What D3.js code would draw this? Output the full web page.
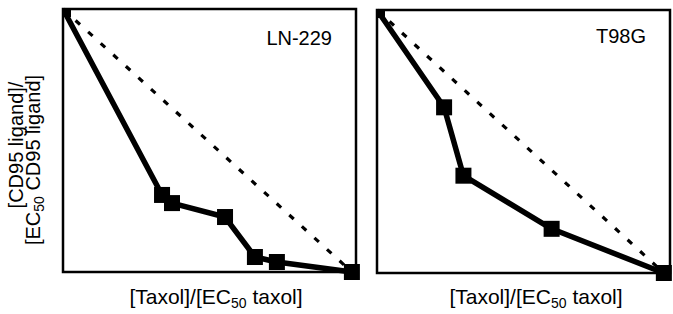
<!DOCTYPE html>
<html>
<head>
<meta charset="utf-8">
<script src="https://cdn.jsdelivr.net/npm/d3@7"></script>
<style>
  body { margin: 0; background: #fff; }
  svg { display: block; font-family: "Liberation Sans", Arial, sans-serif; }
</style>
</head>
<body>
<div id="chart"></div>
<script>
// values, both axes normalised to 0..1
const ln229X = [0, 0.338, 0.372, 0.553, 0.655, 0.730, 0.986];
const ln229Y = [1, 0.293, 0.262, 0.209, 0.057, 0.038, 0];
const t98gX = [0, 0.229, 0.295, 0.596, 0.979];
const t98gY = [1, 0.630, 0.370, 0.168, 0];
const panelNames = ["LN-229", "T98G"];

const width = 673, height = 314;
const pw = 293, ph = 263;
const panels = [
  { name: panelNames[0], xs: ln229X, ys: ln229Y, left: 63, top: 9, labelY: 45, xLabelCx: 216 },
  { name: panelNames[1], xs: t98gX, ys: t98gY, left: 377, top: 10, labelY: 43, xLabelCx: 536 }
];

const svg = d3.select("#chart").append("svg")
  .attr("width", width)
  .attr("height", height);

panels.forEach((p, i) => {
  const x = d3.scaleLinear().domain([0, 1]).range([p.left, p.left + pw]);
  const y = d3.scaleLinear().domain([0, 1]).range([p.top + ph, p.top]);
  const pts = p.xs.map((v, j) => ({ x: v, y: p.ys[j] }));

  // clip only top/left so the corner marker is cut like in the print
  svg.append("clipPath").attr("id", "clip" + i)
    .append("rect")
    .attr("x", p.left).attr("y", p.top)
    .attr("width", pw + 30).attr("height", ph + 30);

  const g = svg.append("g");

  // frame
  g.append("rect")
    .attr("x", p.left).attr("y", p.top)
    .attr("width", pw).attr("height", ph)
    .attr("fill", "none")
    .attr("stroke", "#000")
    .attr("stroke-width", 2.5);

  // additivity line between the two single-agent points
  const first = pts[0], last = pts[pts.length - 1];
  g.append("line")
    .attr("x1", x(first.x)).attr("y1", y(first.y))
    .attr("x2", x(last.x)).attr("y2", y(last.y))
    .attr("stroke", "#000")
    .attr("stroke-width", 3.2)
    .attr("stroke-dasharray", "6,11");

  const line = d3.line().x(d => x(d.x)).y(d => y(d.y));
  g.append("path")
    .datum(pts)
    .attr("d", line)
    .attr("fill", "none")
    .attr("stroke", "#000")
    .attr("stroke-width", 5.5)
    .attr("stroke-linejoin", "round")
    .attr("clip-path", "url(#clip" + i + ")");

  const s = 16;
  g.selectAll(".pt")
    .data(pts)
    .join("rect")
    .attr("class", "pt")
    .attr("x", d => x(d.x) - s / 2)
    .attr("y", d => y(d.y) - s / 2)
    .attr("width", s).attr("height", s)
    .attr("fill", "#000")
    .attr("clip-path", "url(#clip" + i + ")");

  g.append("text")
    .attr("x", p.left + pw - 24)
    .attr("y", p.labelY)
    .attr("text-anchor", "end")
    .attr("font-size", 20)
    .text(p.name);

  const xl = g.append("text")
    .attr("x", p.xLabelCx)
    .attr("y", 304)
    .attr("text-anchor", "middle")
    .attr("font-size", 21);
  xl.append("tspan").text("[Taxol]/[EC");
  xl.append("tspan").attr("font-size", 14).attr("dy", 4).text("50");
  xl.append("tspan").attr("dy", -4).text(" taxol]");
});

// y axis label, two lines
const yl = svg.append("g").attr("font-size", 20).attr("text-anchor", "middle");
yl.append("text")
  .attr("transform", "translate(23,145) rotate(-90)")
  .text("[CD95 ligand]/");
const l2 = yl.append("text")
  .attr("transform", "translate(40,160) rotate(-90)");
l2.append("tspan").text("[EC");
l2.append("tspan").attr("font-size", 14).attr("dy", 4).text("50");
l2.append("tspan").attr("dy", -4).text(" CD95 ligand]");
</script>
</body>
</html>
